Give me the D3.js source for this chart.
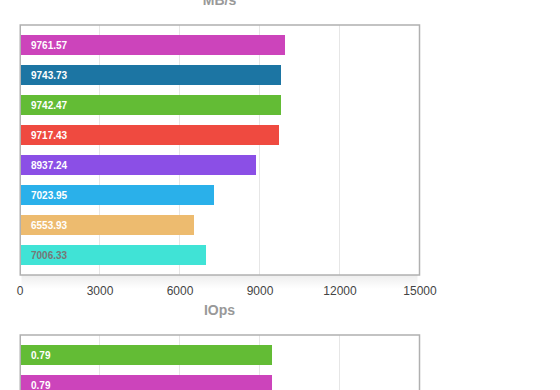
<!DOCTYPE html>
<html><head><meta charset="utf-8">
<script src="https://cdn.jsdelivr.net/npm/d3@7"></script>
<style>
html,body{margin:0;padding:0;background:#fff;overflow:hidden;}
svg{display:block;font-family:"Liberation Sans",Arial,Helvetica,sans-serif;}
</style></head>
<body>
<svg id="c" width="560" height="390"></svg>
<script>
// Chart 1: MB/s
const mbCategories = ["s1","s2","s3","s4","s5","s6","s7","s8"];
const mbValues = [9956, 9806, 9806, 9731, 8869, 7294, 6544, 6994];
const mbLabels = ["9761.57","9743.73","9742.47","9717.43","8937.24","7023.95","6553.93","7006.33"];
const mbColors = ["#cc44bb","#1c75a3","#63bc35","#ef4a40","#8b4fe6","#2ab0ea","#edbb6f","#40e3d6"];
const mbLabelColors = ["#fff","#fff","#fff","#fff","#fff","#fff","#fff","#777"];
// Chart 2: IOps (only the top of it is visible)
const ioCategories = ["s1","s2"];
const ioValues = [9469, 9469];
const ioLabels = ["0.79","0.79"];
const ioColors = ["#63bc35","#cc44bb"];
const ioLabelColors = ["#fff","#fff"];
const xTicks = [0,3000,6000,9000,12000,15000];

const svg = d3.select("#c");
const defs = svg.append("defs");
const grad = defs.append("linearGradient").attr("id","sh").attr("x1",0).attr("y1",0).attr("x2",0).attr("y2",1);
grad.append("stop").attr("offset","0%").attr("stop-color","#000").attr("stop-opacity",0.07);
grad.append("stop").attr("offset","100%").attr("stop-color","#000").attr("stop-opacity",0);

const x = d3.scaleLinear().domain([0,15000]).range([19.5,419.5]);

function chart(top, title, cats, vals, labels, colors, lcolors, showAxis){
  const plotH = 250;
  const y = d3.scaleBand().domain(cats)
    .range([top, top + 30*(cats.length - 1/3 + 2/3)])
    .paddingInner(1/3).paddingOuter(1/3);
  const g = svg.append("g");
  g.append("text").attr("x",219.5).attr("y",top-20).attr("text-anchor","middle")
    .attr("font-size",14).attr("font-weight","bold").attr("fill","#999").text(title);
  // shadow under plot
  g.append("rect").attr("x",x(0)+2).attr("y",top+plotH).attr("width",x(15000)-x(0)-4).attr("height",14)
    .attr("fill","url(#sh)");
  g.append("rect").attr("x",x(0)+0.5).attr("y",top).attr("width",x(15000)-x(0)-0.5).attr("height",plotH)
    .attr("fill","#fff");
  g.selectAll("line.grid").data(xTicks.slice(1,-1)).join("line").attr("class","grid")
    .attr("x1",d=>x(d)).attr("x2",d=>x(d)).attr("y1",top).attr("y2",top+plotH)
    .attr("stroke","#e6e6e6").attr("stroke-width",1);
  g.selectAll("rect.bar").data(vals).join("rect").attr("class","bar")
    .attr("x",x(0)+1).attr("y",(d,i)=>y(cats[i]))
    .attr("width",d=>x(d)-x(0)-1).attr("height",y.bandwidth())
    .attr("fill",(d,i)=>colors[i]);
  g.selectAll("text.lbl").data(labels).join("text").attr("class","lbl")
    .attr("x",31).attr("y",(d,i)=>y(cats[i])+y.bandwidth()/2+3.5)
    .attr("font-size",10).attr("font-weight","bold").attr("fill",(d,i)=>lcolors[i]).text(d=>d);
  g.append("rect").attr("x",x(0)+0.75).attr("y",top).attr("width",x(15000)-x(0)-0.75).attr("height",plotH)
    .attr("fill","none").attr("stroke","#b0b0b0").attr("stroke-width",1.5);
  if(showAxis){
    const ax = g.append("g").attr("transform",`translate(0,${top+plotH})`)
      .call(d3.axisBottom(x).tickValues(xTicks).tickSize(0).tickPadding(11).tickFormat(d3.format("d")));
    ax.select(".domain").remove();
    ax.selectAll("text").attr("font-size",12).attr("fill","#444")
      .attr("font-family","'Liberation Sans',Arial,sans-serif");
  }
}
chart(25, "MB/s", mbCategories, mbValues, mbLabels, mbColors, mbLabelColors, true);
chart(335, "IOps", ioCategories, ioValues, ioLabels, ioColors, ioLabelColors, false);
</script>
</body></html>
